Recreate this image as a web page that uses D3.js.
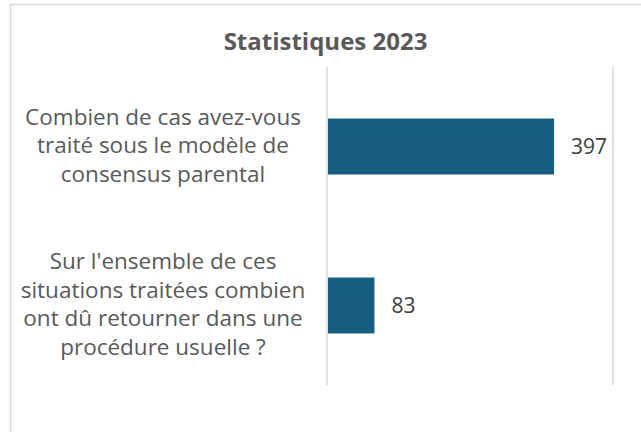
<!DOCTYPE html>
<html>
<head>
<meta charset="utf-8">
<script src="https://cdn.jsdelivr.net/npm/d3@7"></script>
<style>
  body{margin:0;background:#fff;}
  text{font-family:"Open Sans",sans-serif;}
</style>
</head>
<body>
<script>
// data
const title="Statistiques 2023";
const categories=[
  ["Combien de cas avez-vous","traité sous le modèle de","consensus parental"],
  ["Sur l'ensemble de ces","situations traitées combien","ont dû retourner dans une","procédure usuelle ?"]
];
const values=[397,83];
const xTicks=[0,500];

const W=641,H=432;
const plot={left:327,right:613,top:67,bottom:385};

const svg=d3.select('body').append('svg')
  .attr('width',W).attr('height',H);

// chart frame
svg.append('rect')
  .attr('x',10.5).attr('y',4.5)
  .attr('width',640).attr('height',440)
  .attr('fill','#fff').attr('stroke','#d9d9d9').attr('stroke-width',1.5);

const x=d3.scaleLinear().domain([0,500]).range([plot.left,plot.right]);
const y=d3.scaleBand().domain(d3.range(values.length))
  .range([plot.top,plot.bottom]).paddingInner(0.648).paddingOuter(0.324);

// gridlines
svg.selectAll('line.grid').data(xTicks).enter().append('line')
  .attr('class','grid')
  .attr('x1',d=>x(d)).attr('x2',d=>x(d))
  .attr('y1',plot.top).attr('y2',plot.bottom)
  .attr('stroke','#d9d9d9').attr('stroke-width',1.5);

// title
svg.append('text')
  .attr('x',325.5).attr('y',50)
  .attr('text-anchor','middle')
  .attr('font-size',24).attr('font-weight','bold')
  .attr('fill','#595959')
  .text(title);

// bars
svg.selectAll('rect.bar').data(values).enter().append('rect')
  .attr('class','bar')
  .attr('x',x(0)+1)
  .attr('y',(d,i)=>y(i))
  .attr('width',d=>x(d)-x(0)-1)
  .attr('height',y.bandwidth())
  .attr('fill','#175f80');

// value labels
svg.selectAll('text.val').data(values).enter().append('text')
  .attr('class','val')
  .attr('x',d=>x(d)+17)
  .attr('y',(d,i)=>y(i)+y.bandwidth()/2+7)
  .attr('font-size',21)
  .attr('fill','#404040')
  .text(d=>d);

// category labels
const lineH=28.5;
categories.forEach((lines,i)=>{
  const cy=y(i)+y.bandwidth()/2;
  const t=svg.append('text')
    .attr('text-anchor','middle')
    .attr('font-size',22.5)
    .attr('fill','#595959');
  lines.forEach((l,j)=>{
    t.append('tspan')
      .attr('x',163)
      .attr('y',cy+(j-(lines.length-1)/2)*lineH+6.5)
      .text(l);
  });
});
</script>
</body>
</html>
